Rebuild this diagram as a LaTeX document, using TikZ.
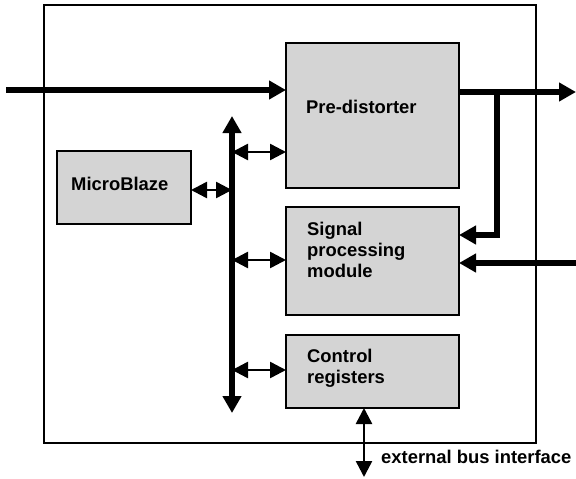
\documentclass[tikz,border=0pt]{standalone}
\usepackage{fontspec}
\setmainfont{Liberation Sans}
\usetikzlibrary{arrows.meta}
\begin{document}
\begin{tikzpicture}[x=1pt,y=-1pt,
 blk/.style={draw,line width=2pt,fill=black!17,anchor=north west,inner sep=0pt,outer sep=0pt},
 lbl/.style={anchor=west,font=\fontsize{18.4}{20.8}\selectfont\bfseries,align=left,inner sep=0pt},
 bigarrow/.style={line width=6pt,line join=miter,-{Triangle[length=17pt,width=18pt]}},
 bushead/.style={line width=6.5pt,{Triangle[length=17pt,width=18pt]}-{Triangle[length=17pt,width=18pt]}},
 smallarrow/.style={line width=2.5pt,{Triangle[length=16pt,width=16pt]}-{Triangle[length=16pt,width=16pt]}}]
\useasboundingbox (0,0) rectangle (576,479);
% outer frame
\draw[line width=1.5pt] (44,5) rectangle (536,443);
% blocks
\node[blk,minimum width=173pt,minimum height=145pt] (pd) at (286,43) {};
\node[blk,minimum width=173pt,minimum height=108pt] (sp) at (286,207) {};
\node[blk,minimum width=173pt,minimum height=73pt] (cr) at (286,335) {};
\node[blk,minimum width=134pt,minimum height=73pt] (mb) at (57,151) {};
% labels
\node[lbl] (pdt) at (306,107) {Pre-distorter};
\node[lbl] (spt) at (307,250) {Signal\\processing\\module};
\node[lbl] (crt) at (307,368.5) {Control\\registers};
\node[lbl] (mbt) at (71,184) {MicroBlaze};
\node[lbl] (ext) at (381,457) {external bus interface};
% coordinates
\coordinate (inStart) at (6,90);
\coordinate (inEnd) at (286,90);
\coordinate (outStart) at (459,92);
\coordinate (outEnd) at (576,92);
\coordinate (brTop) at (497,92);
\coordinate (brBot) at (497,235);
\coordinate (brEnd) at (459,235);
\coordinate (in2Start) at (576,263);
\coordinate (in2End) at (459,263);
\coordinate (busTop) at (232,116);
\coordinate (busBot) at (232,413);
\coordinate (b1) at (232,152);
\coordinate (b1e) at (286,152);
\coordinate (b2) at (232,190);
\coordinate (b2e) at (191,190);
\coordinate (b3) at (232,260);
\coordinate (b3e) at (286,260);
\coordinate (b4) at (232,370);
\coordinate (b4e) at (286,370);
\coordinate (exTop) at (364,408);
\coordinate (exBot) at (364,477);
% data path
\draw[bigarrow] (inStart) -- (inEnd);
\draw[bigarrow] (outStart) -- (outEnd);
\draw[bigarrow] (brTop) -- (brBot) -- (brEnd);
\draw[bigarrow] (in2Start) -- (in2End);
% bus
\draw[bushead] (busBot) -- (busTop);
\draw[smallarrow] (b1) -- (b1e);
\draw[smallarrow] (b2e) -- (b2);
\draw[smallarrow] (b3) -- (b3e);
\draw[smallarrow] (b4) -- (b4e);
\draw[smallarrow] (exTop) -- (exBot);
\end{tikzpicture}
\end{document}
